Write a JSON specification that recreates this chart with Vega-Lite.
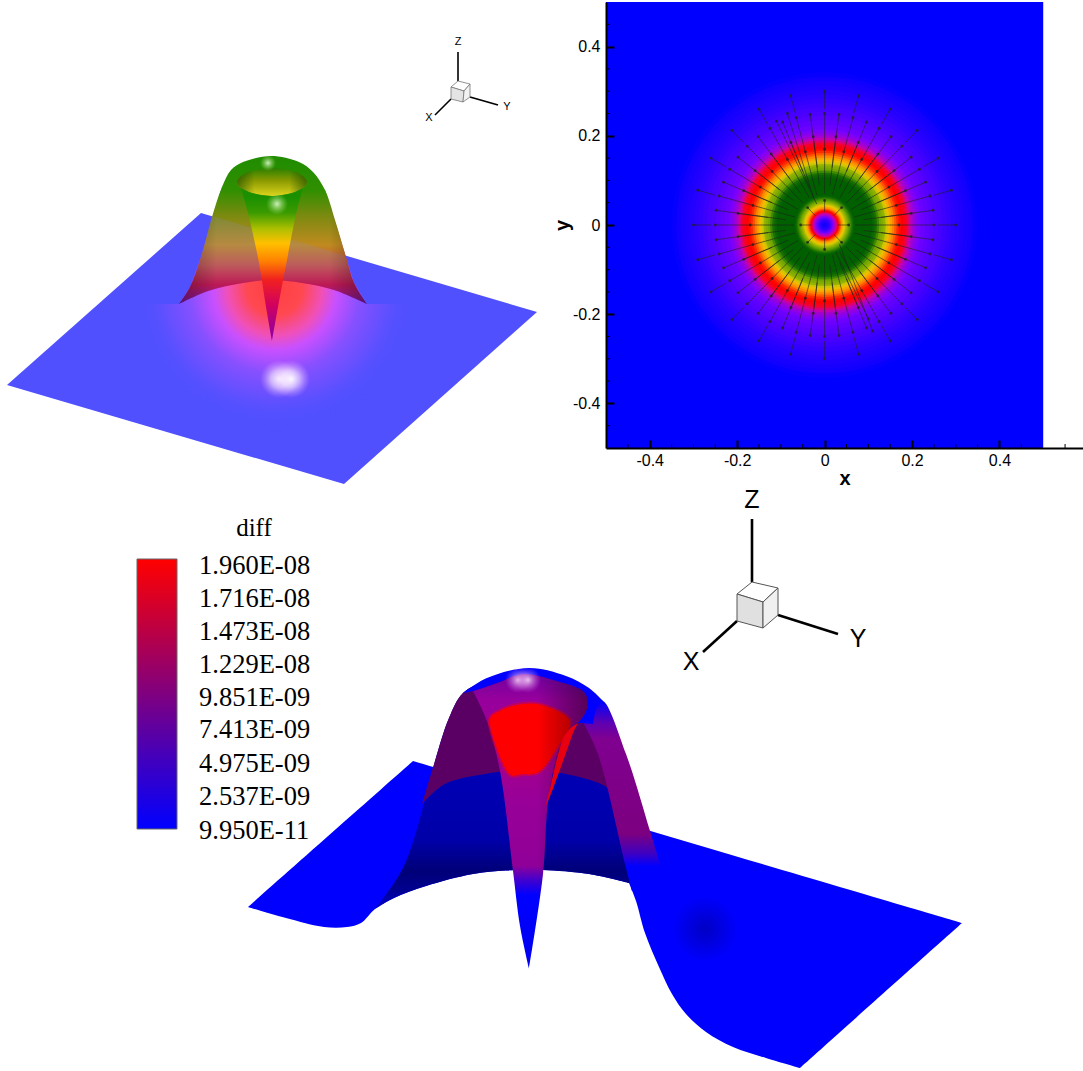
{"$schema":"https://vega.github.io/schema/vega-lite/v6.json","padding":{"left":0,"top":2,"right":0,"bottom":0},"spacing":0,"config":{"view":{"stroke":null}},
"vconcat":[{"hconcat":[
{"width":606,"height":486,
"data":{"values":[
{"p":"plane","i":0,"u":201,"v":213},{"p":"plane","i":1,"u":537,"v":312},{"p":"plane","i":2,"u":344,"v":484},{"p":"plane","i":3,"u":7,"v":385},
{"p":"glow","i":0,"u":135,"v":445},{"p":"glow","i":1,"u":415,"v":445},{"p":"glow","i":2,"u":415,"v":304},{"p":"glow","i":3,"u":367,"v":304},{"p":"glow","i":4,"u":354,"v":283},{"p":"glow","i":5,"u":346,"v":257},{"p":"glow","i":6,"u":325,"v":190},{"p":"glow","i":7,"u":271,"v":157},{"p":"glow","i":8,"u":222,"v":187},{"p":"glow","i":9,"u":201,"v":257},{"p":"glow","i":10,"u":190,"v":287},{"p":"glow","i":11,"u":179,"v":304},{"p":"glow","i":12,"u":135,"v":304},
{"s":"s1","p":"spot","i":0,"u":260,"v":360},{"s":"s1","p":"spot","i":1,"u":298,"v":360},{"s":"s1","p":"spot","i":2,"u":298,"v":398},{"s":"s1","p":"spot","i":3,"u":260,"v":398},
{"s":"s2","p":"spot","i":0,"u":272,"v":360},{"s":"s2","p":"spot","i":1,"u":310,"v":360},{"s":"s2","p":"spot","i":2,"u":310,"v":398},{"s":"s2","p":"spot","i":3,"u":272,"v":398},
{"p":"body","i":0,"u":179,"v":304},{"p":"body","i":0.5,"u":179,"v":304},{"p":"body","i":1,"u":190,"v":287},{"p":"body","i":2,"u":201,"v":257},{"p":"body","i":3,"u":212,"v":217},{"p":"body","i":4,"u":222,"v":187},{"p":"body","i":5,"u":231,"v":170},{"p":"body","i":6,"u":243,"v":162},{"p":"body","i":7,"u":271,"v":156},{"p":"body","i":8,"u":299,"v":162},{"p":"body","i":9,"u":313,"v":172},{"p":"body","i":10,"u":325,"v":190},{"p":"body","i":11,"u":335,"v":220},{"p":"body","i":12,"u":346,"v":257},{"p":"body","i":13,"u":354,"v":283},{"p":"body","i":14,"u":367,"v":304},{"p":"body","i":14.5,"u":367,"v":304},{"p":"body","i":15,"u":334,"v":290},{"p":"body","i":16,"u":302,"v":283},{"p":"body","i":17,"u":272,"v":280},{"p":"body","i":18,"u":243,"v":283},{"p":"body","i":19,"u":208,"v":291},{"p":"body","i":20,"u":179,"v":304},
{"p":"band","i":0,"u":212,"v":216},{"p":"band","i":0.5,"u":212,"v":216},{"p":"band","i":1,"u":344,"v":255},{"p":"band","i":1.5,"u":344,"v":255},{"p":"band","i":2,"u":354,"v":283},{"p":"band","i":3,"u":367,"v":304},{"p":"band","i":3.5,"u":367,"v":304},{"p":"band","i":4,"u":334,"v":290},{"p":"band","i":5,"u":302,"v":283},{"p":"band","i":6,"u":272,"v":280},{"p":"band","i":7,"u":243,"v":283},{"p":"band","i":8,"u":208,"v":291},{"p":"band","i":9,"u":179,"v":304},{"p":"band","i":9.5,"u":179,"v":304},{"p":"band","i":10,"u":190,"v":287},{"p":"band","i":11,"u":201,"v":257},{"p":"band","i":12,"u":212,"v":216},
{"p":"hole","i":0,"u":237,"v":182},{"p":"hole","i":1,"u":241,"v":176},{"p":"hole","i":2,"u":252,"v":171},{"p":"hole","i":3,"u":272,"v":168},{"p":"hole","i":4,"u":292,"v":171},{"p":"hole","i":5,"u":303,"v":176},{"p":"hole","i":6,"u":307,"v":182},{"p":"hole","i":7,"u":303,"v":188},{"p":"hole","i":8,"u":292,"v":193},{"p":"hole","i":9,"u":272,"v":196},{"p":"hole","i":10,"u":252,"v":193},{"p":"hole","i":11,"u":241,"v":188},
{"p":"cone","i":0,"u":241,"v":188},{"p":"cone","i":0.5,"u":241,"v":188},{"p":"cone","i":1,"u":252,"v":193},{"p":"cone","i":2,"u":272,"v":196},{"p":"cone","i":3,"u":292,"v":193},{"p":"cone","i":4,"u":303,"v":188},{"p":"cone","i":4.5,"u":303,"v":188},{"p":"cone","i":5,"u":297,"v":210},{"p":"cone","i":6,"u":287,"v":260},{"p":"cone","i":7,"u":278,"v":307},{"p":"cone","i":8,"u":272,"v":341},{"p":"cone","i":8.5,"u":272,"v":341},{"p":"cone","i":9,"u":266,"v":307},{"p":"cone","i":10,"u":259,"v":263},{"p":"cone","i":11,"u":248,"v":213},{"p":"cone","i":12,"u":241,"v":188},
{"s":"a1","p":"h","i":0,"u":260,"v":155},{"s":"a1","p":"h","i":1,"u":276,"v":155},{"s":"a1","p":"h","i":2,"u":276,"v":171},{"s":"a1","p":"h","i":3,"u":260,"v":171},
{"s":"b1","p":"h","i":0,"u":266,"v":193},{"s":"b1","p":"h","i":1,"u":288,"v":193},{"s":"b1","p":"h","i":2,"u":288,"v":215},{"s":"b1","p":"h","i":3,"u":266,"v":215},
{"p":"c1","i":0,"u":458,"v":81},{"p":"c1","i":1,"u":470,"v":84},{"p":"c1","i":2,"u":464,"v":91},{"p":"c1","i":3,"u":451,"v":87},{"p":"c1","i":4,"u":458,"v":81},
{"p":"c2","i":0,"u":451,"v":87},{"p":"c2","i":1,"u":464,"v":91},{"p":"c2","i":2,"u":463,"v":102},{"p":"c2","i":3,"u":451,"v":99},{"p":"c2","i":4,"u":451,"v":87},
{"p":"c3","i":0,"u":464,"v":91},{"p":"c3","i":1,"u":470,"v":84},{"p":"c3","i":2,"u":470,"v":97},{"p":"c3","i":3,"u":463,"v":102},{"p":"c3","i":4,"u":464,"v":91},
{"p":"axZ","i":0,"u":458,"v":52},{"p":"axZ","i":1,"u":458,"v":81},
{"p":"axY","i":0,"u":470,"v":97},{"p":"axY","i":1,"u":498,"v":105},
{"p":"axX","i":0,"u":451,"v":99},{"p":"axX","i":1,"u":435,"v":115},
{"p":"lab","t":"Z","u":458,"v":42},{"p":"lab","t":"Y","u":507,"v":107},{"p":"lab","t":"X","u":429,"v":118}
]},
"encoding":{"x":{"field":"u","type":"quantitative","scale":{"domain":[0,606],"nice":false,"zero":false},"axis":null},"y":{"field":"v","type":"quantitative","scale":{"domain":[488,2],"nice":false,"zero":false},"axis":null},"order":{"field":"i","type":"quantitative"}},
"layer":[
{"transform":[{"filter":"datum.p=='plane'"}],"mark":{"type":"line","filled":true,"fill":"#5050ff","stroke":null}},
{"transform":[{"filter":"datum.p=='glow'"}],"mark":{"type":"line","filled":true,"stroke":null,"fill":{"gradient":"radial","x1":0.5,"y1":0.455,"r1":0,"x2":0.5,"y2":0.455,"r2":0.5,"stops":[{"offset":0,"color":"#ff4040"},{"offset":0.19,"color":"#ff4850"},{"offset":0.33,"color":"#f050b8"},{"offset":0.43,"color":"#c850ff"},{"offset":0.59,"color":"#8850ff"},{"offset":0.76,"color":"rgba(104,80,255,0.9)"},{"offset":0.88,"color":"rgba(88,80,255,0.35)"},{"offset":1,"color":"rgba(80,80,255,0)"}]}}},
{"transform":[{"filter":"datum.p=='spot'"}],"mark":{"type":"line","filled":true,"stroke":null,"fill":{"gradient":"radial","x1":0.5,"y1":0.5,"r1":0,"x2":0.5,"y2":0.5,"r2":0.5,"stops":[{"offset":0,"color":"rgba(255,255,255,0.95)"},{"offset":0.45,"color":"rgba(255,240,255,0.6)"},{"offset":1,"color":"rgba(230,170,255,0)"}]}},"encoding":{"detail":{"field":"s","type":"nominal"}}},
{"transform":[{"filter":"datum.p=='body'"}],"mark":{"type":"line","interpolate":"catmull-rom","filled":true,"stroke":null,"fill":{"gradient":"linear","x1":0,"y1":0,"x2":0,"y2":1,"stops":[{"offset":0,"color":"#208c00"},{"offset":0.23,"color":"#2f8f00"},{"offset":0.4,"color":"#7a8a10"},{"offset":0.6,"color":"#c08a20"},{"offset":0.74,"color":"#c85040"},{"offset":0.87,"color":"#c80038"},{"offset":1,"color":"#8000a0"}]}}},
{"transform":[{"filter":"datum.p=='band'"}],"mark":{"type":"line","interpolate":"catmull-rom","filled":true,"stroke":null,"fill":"rgba(140,140,220,0.18)"}},
{"transform":[{"filter":"datum.p=='body'"}],"mark":{"type":"line","interpolate":"catmull-rom","filled":true,"stroke":null,"fill":{"gradient":"linear","x1":0,"y1":0,"x2":1,"y2":0,"stops":[{"offset":0,"color":"rgba(0,0,0,0.35)"},{"offset":0.2,"color":"rgba(0,0,0,0)"},{"offset":0.8,"color":"rgba(0,0,0,0)"},{"offset":1,"color":"rgba(0,0,0,0.35)"}]}}},
{"transform":[{"filter":"datum.p=='hole'"}],"mark":{"type":"line","interpolate":"cardinal-closed","filled":true,"stroke":null,"fill":{"gradient":"linear","x1":0,"y1":0,"x2":0,"y2":1,"stops":[{"offset":0,"color":"#2a8000"},{"offset":0.45,"color":"#8a9a00"},{"offset":1,"color":"#dcd41c"}]}}},
{"transform":[{"filter":"datum.p=='hole'"}],"mark":{"type":"line","interpolate":"cardinal-closed","filled":true,"stroke":null,"fill":{"gradient":"linear","x1":0,"y1":0,"x2":1,"y2":0,"stops":[{"offset":0,"color":"rgba(0,60,0,0.55)"},{"offset":0.25,"color":"rgba(0,60,0,0)"},{"offset":0.75,"color":"rgba(0,60,0,0)"},{"offset":1,"color":"rgba(0,60,0,0.55)"}]}}},
{"transform":[{"filter":"datum.p=='cone'"}],"mark":{"type":"line","interpolate":"catmull-rom","filled":true,"stroke":null,"fill":{"gradient":"linear","x1":0,"y1":0,"x2":0,"y2":1,"stops":[{"offset":0.06,"color":"#1a9000"},{"offset":0.16,"color":"#3a9a00"},{"offset":0.27,"color":"#b0c000"},{"offset":0.36,"color":"#ffc000"},{"offset":0.48,"color":"#ff8000"},{"offset":0.6,"color":"#f02020"},{"offset":0.77,"color":"#d00060"},{"offset":0.96,"color":"#9000a0"}]}}},
{"transform":[{"filter":"datum.p=='h'"}],"mark":{"type":"line","filled":true,"stroke":null,"fill":{"gradient":"radial","x1":0.5,"y1":0.5,"r1":0,"x2":0.5,"y2":0.5,"r2":0.5,"stops":[{"offset":0,"color":"rgba(235,255,220,0.85)"},{"offset":1,"color":"rgba(160,220,100,0)"}]}},"encoding":{"detail":{"field":"s","type":"nominal"}}},
{"transform":[{"filter":"datum.p=='axZ'"}],"mark":{"type":"line","color":"#000000","strokeWidth":1.6}},
{"transform":[{"filter":"datum.p=='axY'"}],"mark":{"type":"line","color":"#000000","strokeWidth":1.6}},
{"transform":[{"filter":"datum.p=='axX'"}],"mark":{"type":"line","color":"#000000","strokeWidth":1.6}},
{"transform":[{"filter":"datum.p=='c1'"}],"mark":{"type":"line","filled":true,"fill":"#ffffff","stroke":"#777777","strokeWidth":0.8}},
{"transform":[{"filter":"datum.p=='c2'"}],"mark":{"type":"line","filled":true,"fill":"#e4e4e4","stroke":"#777777","strokeWidth":0.8}},
{"transform":[{"filter":"datum.p=='c3'"}],"mark":{"type":"line","filled":true,"fill":"#f2f2f2","stroke":"#777777","strokeWidth":0.8}},
{"transform":[{"filter":"datum.p=='lab'"}],"mark":{"type":"text","font":"Liberation Sans","fontSize":11,"color":"#000000"},"encoding":{"text":{"field":"t","type":"nominal"},"order":null}}
]},
{"width":477,"height":446,
"layer":[
{"data":{"values":[{"xa":-0.5,"xb":0.5,"ya":-0.5,"yb":0.5}]},"mark":{"type":"rect","color":"#0000ff"},
"encoding":{"x":{"field":"xa","type":"quantitative","title":"x","scale":{"domain":[-0.5,0.591],"nice":false,"zero":false},"axis":{"values":[-0.4,-0.2,0,0.2,0.4],"labelExpr":"''+datum.value","grid":false,"domainColor":"#000000","domainWidth":2,"tickColor":"#000000","tickWidth":2,"tickSize":-8,"labelPadding":12,"labelFont":"Liberation Sans","labelFontSize":16,"labelColor":"#000000","titleFont":"Liberation Sans","titleFontSize":20,"titleFontWeight":"bold","titleColor":"#000000","titlePadding":0,"zindex":1}},"x2":{"field":"xb"},
"y":{"field":"ya","type":"quantitative","title":"y","scale":{"domain":[-0.5,0.5],"nice":false,"zero":false},"axis":{"values":[-0.4,-0.2,0,0.2,0.4],"labelExpr":"''+datum.value","grid":false,"domainColor":"#000000","domainWidth":2,"tickColor":"#000000","tickWidth":2,"tickSize":-8,"labelPadding":14,"labelFont":"Liberation Sans","labelFontSize":16,"labelColor":"#000000","titleFont":"Liberation Sans","titleFontSize":20,"titleFontWeight":"bold","titleColor":"#000000","titlePadding":0,"zindex":1}},"y2":{"field":"yb"}}},
{"data":{"values":[{"r":0.35,"w":0.01},{"r":0.34,"w":0.03},{"r":0.33,"w":0.04},{"r":0.32,"w":0.05},{"r":0.31,"w":0.06},{"r":0.3,"w":0.07},{"r":0.29,"w":0.085},{"r":0.28,"w":0.1},{"r":0.27,"w":0.115},{"r":0.26,"w":0.13},{"r":0.25,"w":0.145},{"r":0.24,"w":0.16},{"r":0.23,"w":0.18},{"r":0.22,"w":0.2},{"r":0.215,"w":0.22},{"r":0.21,"w":0.24},{"r":0.205,"w":0.27},{"r":0.2,"w":0.31},{"r":0.195,"w":0.35},{"r":0.19,"w":0.38},{"r":0.185,"w":0.39},{"r":0.18,"w":0.4},{"r":0.175,"w":0.41},{"r":0.17,"w":0.43},{"r":0.165,"w":0.46},{"r":0.16,"w":0.49},{"r":0.155,"w":0.53},{"r":0.15,"w":0.57},{"r":0.145,"w":0.64},{"r":0.14,"w":0.72},{"r":0.135,"w":0.75},{"r":0.13,"w":0.78},{"r":0.125,"w":0.87},{"r":0.12,"w":0.95},{"r":0.115,"w":0.98},{"r":0.11,"w":1},{"r":0.07,"w":1},{"r":0.0675,"w":0.98},{"r":0.065,"w":0.95},{"r":0.0625,"w":0.9},{"r":0.06,"w":0.85},{"r":0.0575,"w":0.8},{"r":0.055,"w":0.76},{"r":0.0525,"w":0.72},{"r":0.05,"w":0.68},{"r":0.0475,"w":0.63},{"r":0.045,"w":0.58},{"r":0.0425,"w":0.54},{"r":0.04,"w":0.5},{"r":0.0375,"w":0.46},{"r":0.035,"w":0.43},{"r":0.0325,"w":0.4},{"r":0.03,"w":0.37},{"r":0.0275,"w":0.33},{"r":0.025,"w":0.29},{"r":0.0225,"w":0.25},{"r":0.02,"w":0.2},{"r":0.0175,"w":0.16},{"r":0.015,"w":0.12},{"r":0.0125,"w":0.09},{"r":0.01,"w":0.06},{"r":0.005,"w":0.03}]},
"mark":{"type":"circle","opacity":1},"encoding":{"x":{"datum":0,"type":"quantitative","scale":{"domain":[-0.5,0.591],"nice":false,"zero":false}},"y":{"datum":0,"type":"quantitative","scale":{"domain":[-0.5,0.5],"nice":false,"zero":false}},"size":{"field":"r","type":"quantitative","scale":{"type":"pow","exponent":2,"domain":[0,0.5],"range":[0,190096]},"legend":null},"color":{"field":"w","type":"quantitative","scale":{"interpolate":"rgb","domain":[0,0.2,0.33,0.4,0.5,0.6,0.8,1],"range":["#0000ff","#7800ff","#d000a0","#ff0000","#ff9000","#e8d000","#60a000","#006000"]},"legend":null}}},
{"data":{"values":[
{"a":0.07,"b":0,"c":0.17,"d":0},{"a":0.068,"b":0.018,"c":0.164,"d":0.044},{"a":0.061,"b":0.035,"c":0.147,"d":0.085},{"a":0.049,"b":0.049,"c":0.12,"d":0.12},{"a":0.035,"b":0.061,"c":0.085,"d":0.147},{"a":0.018,"b":0.068,"c":0.044,"d":0.164},{"a":0,"b":0.07,"c":0,"d":0.17},{"a":-0.018,"b":0.068,"c":-0.044,"d":0.164},{"a":-0.035,"b":0.061,"c":-0.085,"d":0.147},{"a":-0.049,"b":0.049,"c":-0.12,"d":0.12},{"a":-0.061,"b":0.035,"c":-0.147,"d":0.085},{"a":-0.068,"b":0.018,"c":-0.164,"d":0.044},{"a":-0.07,"b":0,"c":-0.17,"d":0},{"a":-0.068,"b":-0.018,"c":-0.164,"d":-0.044},{"a":-0.061,"b":-0.035,"c":-0.147,"d":-0.085},{"a":-0.049,"b":-0.049,"c":-0.12,"d":-0.12},{"a":-0.035,"b":-0.061,"c":-0.085,"d":-0.147},{"a":-0.018,"b":-0.068,"c":-0.044,"d":-0.164},{"a":0,"b":-0.07,"c":0,"d":-0.17},{"a":0.018,"b":-0.068,"c":0.044,"d":-0.164},{"a":0.035,"b":-0.061,"c":0.085,"d":-0.147},{"a":0.049,"b":-0.049,"c":0.12,"d":-0.12},{"a":0.061,"b":-0.035,"c":0.147,"d":-0.085},{"a":0.068,"b":-0.018,"c":0.164,"d":-0.044},
{"a":0.129,"b":0.017,"c":0.248,"d":0.033},{"a":0.12,"b":0.05,"c":0.231,"d":0.096},{"a":0.103,"b":0.079,"c":0.198,"d":0.152},{"a":0.079,"b":0.103,"c":0.152,"d":0.198},{"a":0.05,"b":0.12,"c":0.096,"d":0.231},{"a":0.017,"b":0.129,"c":0.033,"d":0.248},{"a":-0.017,"b":0.129,"c":-0.033,"d":0.248},{"a":-0.05,"b":0.12,"c":-0.096,"d":0.231},{"a":-0.079,"b":0.103,"c":-0.152,"d":0.198},{"a":-0.103,"b":0.079,"c":-0.198,"d":0.152},{"a":-0.12,"b":0.05,"c":-0.231,"d":0.096},{"a":-0.129,"b":0.017,"c":-0.248,"d":0.033},{"a":-0.129,"b":-0.017,"c":-0.248,"d":-0.033},{"a":-0.12,"b":-0.05,"c":-0.231,"d":-0.096},{"a":-0.103,"b":-0.079,"c":-0.198,"d":-0.152},{"a":-0.079,"b":-0.103,"c":-0.152,"d":-0.198},{"a":-0.05,"b":-0.12,"c":-0.096,"d":-0.231},{"a":-0.017,"b":-0.129,"c":-0.033,"d":-0.248},{"a":0.017,"b":-0.129,"c":0.033,"d":-0.248},{"a":0.05,"b":-0.12,"c":0.096,"d":-0.231},{"a":0.079,"b":-0.103,"c":0.152,"d":-0.198},{"a":0.103,"b":-0.079,"c":0.198,"d":-0.152},{"a":0.12,"b":-0.05,"c":0.231,"d":-0.096},{"a":0.129,"b":-0.017,"c":0.248,"d":-0.033},
{"a":0.089,"b":0.012,"c":0.198,"d":0.026},{"a":0.083,"b":0.034,"c":0.185,"d":0.077},{"a":0.071,"b":0.055,"c":0.159,"d":0.122},{"a":0.055,"b":0.071,"c":0.122,"d":0.159},{"a":0.034,"b":0.083,"c":0.077,"d":0.185},{"a":0.012,"b":0.089,"c":0.026,"d":0.198},{"a":-0.012,"b":0.089,"c":-0.026,"d":0.198},{"a":-0.034,"b":0.083,"c":-0.077,"d":0.185},{"a":-0.055,"b":0.071,"c":-0.122,"d":0.159},{"a":-0.071,"b":0.055,"c":-0.159,"d":0.122},{"a":-0.083,"b":0.034,"c":-0.185,"d":0.077},{"a":-0.089,"b":0.012,"c":-0.198,"d":0.026},{"a":-0.089,"b":-0.012,"c":-0.198,"d":-0.026},{"a":-0.083,"b":-0.034,"c":-0.185,"d":-0.077},{"a":-0.071,"b":-0.055,"c":-0.159,"d":-0.122},{"a":-0.055,"b":-0.071,"c":-0.122,"d":-0.159},{"a":-0.034,"b":-0.083,"c":-0.077,"d":-0.185},{"a":-0.012,"b":-0.089,"c":-0.026,"d":-0.198},{"a":0.012,"b":-0.089,"c":0.026,"d":-0.198},{"a":0.034,"b":-0.083,"c":0.077,"d":-0.185},{"a":0.055,"b":-0.071,"c":0.122,"d":-0.159},{"a":0.071,"b":-0.055,"c":0.159,"d":-0.122},{"a":0.083,"b":-0.034,"c":0.185,"d":-0.077},{"a":0.089,"b":-0.012,"c":0.198,"d":-0.026},
{"a":0.17,"b":0,"c":0.25,"d":0},{"a":0.164,"b":0.044,"c":0.241,"d":0.065},{"a":0.147,"b":0.085,"c":0.217,"d":0.125},{"a":0.12,"b":0.12,"c":0.177,"d":0.177},{"a":0.085,"b":0.147,"c":0.125,"d":0.217},{"a":0.044,"b":0.164,"c":0.065,"d":0.241},{"a":0,"b":0.17,"c":0,"d":0.25},{"a":-0.044,"b":0.164,"c":-0.065,"d":0.241},{"a":-0.085,"b":0.147,"c":-0.125,"d":0.217},{"a":-0.12,"b":0.12,"c":-0.177,"d":0.177},{"a":-0.147,"b":0.085,"c":-0.217,"d":0.125},{"a":-0.164,"b":0.044,"c":-0.241,"d":0.065},{"a":-0.17,"b":0,"c":-0.25,"d":0},{"a":-0.164,"b":-0.044,"c":-0.241,"d":-0.065},{"a":-0.147,"b":-0.085,"c":-0.217,"d":-0.125},{"a":-0.12,"b":-0.12,"c":-0.177,"d":-0.177},{"a":-0.085,"b":-0.147,"c":-0.125,"d":-0.217},{"a":-0.044,"b":-0.164,"c":-0.065,"d":-0.241},{"a":0,"b":-0.17,"c":0,"d":-0.25},{"a":0.044,"b":-0.164,"c":0.065,"d":-0.241},{"a":0.085,"b":-0.147,"c":0.125,"d":-0.217},{"a":0.12,"b":-0.12,"c":0.177,"d":-0.177},{"a":0.147,"b":-0.085,"c":0.217,"d":-0.125},{"a":0.164,"b":-0.044,"c":0.241,"d":-0.065},
{"a":0.26,"b":0,"c":0.3,"d":0},{"a":0.251,"b":0.067,"c":0.29,"d":0.078},{"a":0.225,"b":0.13,"c":0.26,"d":0.15},{"a":0.184,"b":0.184,"c":0.212,"d":0.212},{"a":0.13,"b":0.225,"c":0.15,"d":0.26},{"a":0.067,"b":0.251,"c":0.078,"d":0.29},{"a":0,"b":0.26,"c":0,"d":0.3},{"a":-0.067,"b":0.251,"c":-0.078,"d":0.29},{"a":-0.13,"b":0.225,"c":-0.15,"d":0.26},{"a":-0.184,"b":0.184,"c":-0.212,"d":0.212},{"a":-0.225,"b":0.13,"c":-0.26,"d":0.15},{"a":-0.251,"b":0.067,"c":-0.29,"d":0.078},{"a":-0.26,"b":0,"c":-0.3,"d":0},{"a":-0.251,"b":-0.067,"c":-0.29,"d":-0.078},{"a":-0.225,"b":-0.13,"c":-0.26,"d":-0.15},{"a":-0.184,"b":-0.184,"c":-0.212,"d":-0.212},{"a":-0.13,"b":-0.225,"c":-0.15,"d":-0.26},{"a":-0.067,"b":-0.251,"c":-0.078,"d":-0.29},{"a":0,"b":-0.26,"c":0,"d":-0.3},{"a":0.067,"b":-0.251,"c":0.078,"d":-0.29},{"a":0.13,"b":-0.225,"c":0.15,"d":-0.26},{"a":0.184,"b":-0.184,"c":0.212,"d":-0.212},{"a":0.225,"b":-0.13,"c":0.26,"d":-0.15},{"a":0.251,"b":-0.067,"c":0.29,"d":-0.078},
{"a":0.03,"b":0,"c":0.055,"d":0},{"a":0.021,"b":0.021,"c":0.039,"d":0.039},{"a":0,"b":0.03,"c":0,"d":0.055},{"a":-0.021,"b":0.021,"c":-0.039,"d":0.039},{"a":-0.03,"b":0,"c":-0.055,"d":0},{"a":-0.021,"b":-0.021,"c":-0.039,"d":-0.039},{"a":0,"b":-0.03,"c":0,"d":-0.055},{"a":0.021,"b":-0.021,"c":0.039,"d":-0.039},
{"a":-0.018,"b":0.047,"c":-0.11,"d":0.233},{"a":-0.025,"b":0.06,"c":-0.085,"d":0.25},{"a":0.034,"b":-0.043,"c":0.11,"d":-0.238},{"a":0.025,"b":-0.06,"c":0.1,"d":-0.21}
]},"layer":[
{"mark":{"type":"rule","color":"#202020","strokeWidth":0.8,"opacity":0.75},"encoding":{"x":{"field":"a","type":"quantitative","scale":{"domain":[-0.5,0.591],"nice":false,"zero":false}},"y":{"field":"b","type":"quantitative","scale":{"domain":[-0.5,0.5],"nice":false,"zero":false}},"x2":{"field":"c"},"y2":{"field":"d"}}},
{"mark":{"type":"circle","color":"#202020","size":8,"opacity":0.8},"encoding":{"x":{"field":"c","type":"quantitative","scale":{"domain":[-0.5,0.591],"nice":false,"zero":false}},"y":{"field":"d","type":"quantitative","scale":{"domain":[-0.5,0.5],"nice":false,"zero":false}}}}
]},
{"data":{"values":[{"t":-0.45},{"t":-0.35},{"t":-0.3},{"t":-0.25},{"t":-0.15},{"t":-0.1},{"t":-0.05},{"t":0.05},{"t":0.1},{"t":0.15},{"t":0.25},{"t":0.3},{"t":0.35},{"t":0.45},{"t":0.55}]},"mark":{"type":"rule","color":"#000000","strokeWidth":1},"encoding":{"x":{"field":"t","type":"quantitative","scale":{"domain":[-0.5,0.591],"nice":false,"zero":false}},"y":{"datum":-0.5,"type":"quantitative","scale":{"domain":[-0.5,0.5],"nice":false,"zero":false}},"y2":{"datum":-0.491}}},
{"data":{"values":[{"t":-0.45},{"t":-0.35},{"t":-0.3},{"t":-0.25},{"t":-0.15},{"t":-0.1},{"t":-0.05},{"t":0.05},{"t":0.1},{"t":0.15},{"t":0.25},{"t":0.3},{"t":0.35},{"t":0.45}]},"mark":{"type":"rule","color":"#000000","strokeWidth":1},"encoding":{"y":{"field":"t","type":"quantitative","scale":{"domain":[-0.5,0.5],"nice":false,"zero":false}},"x":{"datum":-0.5,"type":"quantitative","scale":{"domain":[-0.5,0.591],"nice":false,"zero":false}},"x2":{"datum":-0.491}}}
]}
],"spacing":0,"bounds":"flush"},
{"width":1083,"height":583,
"data":{"values":[
{"p":"plane","i":0,"u":248,"v":906},{"p":"plane","i":0.5,"u":248,"v":906},{"p":"plane","i":1,"u":413,"v":760},{"p":"plane","i":1.5,"u":413,"v":760},{"p":"plane","i":3,"u":962,"v":922},{"p":"plane","i":3.5,"u":962,"v":922},{"p":"plane","i":4,"u":800,"v":1067},{"p":"plane","i":4.5,"u":800,"v":1067},{"p":"plane","i":4.8,"u":766,"v":1057},{"p":"plane","i":5,"u":733,"v":1046},{"p":"plane","i":6,"u":706,"v":1031},{"p":"plane","i":7,"u":686,"v":1013},{"p":"plane","i":7.5,"u":672,"v":993},{"p":"plane","i":8,"u":659,"v":966},{"p":"plane","i":9,"u":645,"v":932},{"p":"plane","i":10,"u":636,"v":900},{"p":"plane","i":11,"u":629,"v":882},{"p":"plane","i":11.5,"u":629,"v":882},{"p":"plane","i":12,"u":589,"v":873},{"p":"plane","i":13,"u":543,"v":869},{"p":"plane","i":14,"u":515,"v":869},{"p":"plane","i":15,"u":473,"v":873},{"p":"plane","i":16,"u":426,"v":885},{"p":"plane","i":17,"u":394,"v":897},{"p":"plane","i":18,"u":375,"v":908},{"p":"plane","i":19,"u":361,"v":922},{"p":"plane","i":20,"u":347,"v":926},{"p":"plane","i":21,"u":324,"v":926},{"p":"plane","i":22,"u":286,"v":917},{"p":"plane","i":23,"u":248,"v":906},
{"p":"wall","i":0,"u":375,"v":908},{"p":"wall","i":0.5,"u":375,"v":908},{"p":"wall","i":1,"u":403,"v":867},{"p":"wall","i":2,"u":424,"v":803},{"p":"wall","i":3,"u":435,"v":760},{"p":"wall","i":4,"u":449,"v":717},{"p":"wall","i":5,"u":463,"v":692},{"p":"wall","i":6,"u":487,"v":680},{"p":"wall","i":7,"u":529,"v":672},{"p":"wall","i":8,"u":570,"v":680},{"p":"wall","i":9,"u":600,"v":700},{"p":"wall","i":10,"u":610,"v":753},{"p":"wall","i":11,"u":632,"v":867},{"p":"wall","i":12,"u":629,"v":882},{"p":"wall","i":12.5,"u":629,"v":882},{"p":"wall","i":13,"u":589,"v":873},{"p":"wall","i":14,"u":543,"v":869},{"p":"wall","i":15,"u":515,"v":869},{"p":"wall","i":16,"u":473,"v":873},{"p":"wall","i":17,"u":426,"v":885},{"p":"wall","i":18,"u":394,"v":897},{"p":"wall","i":19,"u":375,"v":908},
{"p":"wtop","i":0,"u":422,"v":803},{"p":"wtop","i":0.5,"u":422,"v":803},{"p":"wtop","i":1,"u":435,"v":760},{"p":"wtop","i":2,"u":449,"v":717},{"p":"wtop","i":3,"u":463,"v":692},{"p":"wtop","i":4,"u":487,"v":680},{"p":"wtop","i":5,"u":529,"v":672},{"p":"wtop","i":6,"u":570,"v":680},{"p":"wtop","i":7,"u":600,"v":700},{"p":"wtop","i":8,"u":610,"v":753},{"p":"wtop","i":9,"u":612,"v":790},{"p":"wtop","i":9.5,"u":612,"v":790},{"p":"wtop","i":10,"u":601,"v":783},{"p":"wtop","i":11,"u":566,"v":773},{"p":"wtop","i":12,"u":530,"v":768},{"p":"wtop","i":13,"u":491,"v":772},{"p":"wtop","i":14,"u":445,"v":783},{"p":"wtop","i":15,"u":422,"v":803},
{"p":"rband","i":0,"u":584,"v":723},{"p":"rband","i":0.5,"u":584,"v":723},{"p":"rband","i":1,"u":597,"v":703},{"p":"rband","i":2,"u":603,"v":700},{"p":"rband","i":3,"u":626,"v":753},{"p":"rband","i":4,"u":650,"v":830},{"p":"rband","i":5,"u":662,"v":870},{"p":"rband","i":6,"u":668,"v":890},{"p":"rband","i":6.5,"u":668,"v":890},{"p":"rband","i":7,"u":632,"v":890},{"p":"rband","i":7.5,"u":632,"v":890},{"p":"rband","i":8,"u":626,"v":867},{"p":"rband","i":9,"u":598,"v":753},{"p":"rband","i":10,"u":584,"v":723},
{"p":"dark","i":0,"u":672,"v":895},{"p":"dark","i":1,"u":738,"v":895},{"p":"dark","i":2,"u":738,"v":961},{"p":"dark","i":3,"u":672,"v":961},
{"p":"funnel","i":0,"u":473,"v":690},{"p":"funnel","i":0.5,"u":473,"v":690},{"p":"funnel","i":1,"u":497,"v":682},{"p":"funnel","i":2,"u":523,"v":673},{"p":"funnel","i":3,"u":557,"v":680},{"p":"funnel","i":4,"u":583,"v":690},{"p":"funnel","i":5,"u":590,"v":700},{"p":"funnel","i":6,"u":577,"v":723},{"p":"funnel","i":7,"u":563,"v":737},{"p":"funnel","i":8,"u":550,"v":787},{"p":"funnel","i":9,"u":547,"v":810},{"p":"funnel","i":10,"u":543,"v":873},{"p":"funnel","i":11,"u":529,"v":968},{"p":"funnel","i":11.5,"u":529,"v":968},{"p":"funnel","i":12,"u":520,"v":925},{"p":"funnel","i":13,"u":513,"v":870},{"p":"funnel","i":14,"u":500,"v":770},{"p":"funnel","i":15,"u":487,"v":720},{"p":"funnel","i":16,"u":473,"v":690},
{"p":"red","i":0,"u":523,"v":703},{"p":"red","i":1,"u":545,"v":705},{"p":"red","i":2,"u":570,"v":720},{"p":"red","i":3,"u":557,"v":747},{"p":"red","i":4,"u":540,"v":770},{"p":"red","i":5,"u":523,"v":773},{"p":"red","i":6,"u":507,"v":770},{"p":"red","i":7,"u":490,"v":723},{"p":"red","i":8,"u":500,"v":710},
{"p":"sliver","i":0,"u":577,"v":723},{"p":"sliver","i":1,"u":563,"v":738},{"p":"sliver","i":2,"u":550,"v":787},{"p":"sliver","i":3,"u":547,"v":803},{"p":"sliver","i":4,"u":562,"v":763},{"p":"sliver","i":5,"u":573,"v":732},
{"p":"rim","i":0,"u":463,"v":692},{"p":"rim","i":0.5,"u":463,"v":692},{"p":"rim","i":1,"u":487,"v":677},{"p":"rim","i":2,"u":529,"v":667},{"p":"rim","i":3,"u":566,"v":675},{"p":"rim","i":4,"u":589,"v":687},{"p":"rim","i":5,"u":603,"v":700},{"p":"rim","i":5.5,"u":603,"v":700},{"p":"rim","i":6,"u":597,"v":706},{"p":"rim","i":7,"u":593,"v":723},{"p":"rim","i":7.5,"u":593,"v":723},{"p":"rim","i":8,"u":578,"v":722},{"p":"rim","i":8.5,"u":578,"v":722},{"p":"rim","i":9,"u":587,"v":708},{"p":"rim","i":10,"u":585,"v":692},{"p":"rim","i":11,"u":557,"v":680},{"p":"rim","i":12,"u":523,"v":673},{"p":"rim","i":13,"u":497,"v":682},{"p":"rim","i":14,"u":473,"v":690},{"p":"rim","i":15,"u":463,"v":692},
{"s":"e1","p":"hl","i":0,"u":505,"v":666},{"s":"e1","p":"hl","i":1,"u":531,"v":666},{"s":"e1","p":"hl","i":2,"u":531,"v":692},{"s":"e1","p":"hl","i":3,"u":505,"v":692},
{"s":"e2","p":"hl","i":0,"u":515,"v":666},{"s":"e2","p":"hl","i":1,"u":541,"v":666},{"s":"e2","p":"hl","i":2,"u":541,"v":692},{"s":"e2","p":"hl","i":3,"u":515,"v":692},
{"p":"bar","i":0,"u":137,"v":558},{"p":"bar","i":1,"u":177,"v":558},{"p":"bar","i":2,"u":177,"v":828},{"p":"bar","i":3,"u":137,"v":828},{"p":"bar","i":4,"u":137,"v":558},
{"p":"c1","i":0,"u":752,"v":581},{"p":"c1","i":1,"u":778,"v":587},{"p":"c1","i":2,"u":763,"v":601},{"p":"c1","i":3,"u":737,"v":593},{"p":"c1","i":4,"u":752,"v":581},
{"p":"c2","i":0,"u":737,"v":593},{"p":"c2","i":1,"u":763,"v":601},{"p":"c2","i":2,"u":763,"v":627},{"p":"c2","i":3,"u":737,"v":620},{"p":"c2","i":4,"u":737,"v":593},
{"p":"c3","i":0,"u":763,"v":601},{"p":"c3","i":1,"u":778,"v":587},{"p":"c3","i":2,"u":778,"v":614},{"p":"c3","i":3,"u":763,"v":627},{"p":"c3","i":4,"u":763,"v":601},
{"p":"axZ","i":0,"u":752,"v":518},{"p":"axZ","i":1,"u":752,"v":581},
{"p":"axY","i":0,"u":778,"v":614},{"p":"axY","i":1,"u":838,"v":633},
{"p":"axX","i":0,"u":737,"v":620},{"p":"axX","i":1,"u":703,"v":651},
{"p":"lab","t":"Z","u":752,"v":499},{"p":"lab","t":"Y","u":858,"v":638},{"p":"lab","t":"X","u":691,"v":661},
{"p":"leg","t":"diff","u":254,"v":527},
{"p":"tick","t":"1.960E-08","u":199,"v":565},{"p":"tick","t":"1.716E-08","u":199,"v":598},{"p":"tick","t":"1.473E-08","u":199,"v":631},{"p":"tick","t":"1.229E-08","u":199,"v":664},{"p":"tick","t":"9.851E-09","u":199,"v":697},{"p":"tick","t":"7.413E-09","u":199,"v":729},{"p":"tick","t":"4.975E-09","u":199,"v":763},{"p":"tick","t":"2.537E-09","u":199,"v":796},{"p":"tick","t":"9.950E-11","u":199,"v":830}
]},
"encoding":{"x":{"field":"u","type":"quantitative","scale":{"domain":[0,1083],"nice":false,"zero":false},"axis":null},"y":{"field":"v","type":"quantitative","scale":{"domain":[1071,488],"nice":false,"zero":false},"axis":null},"order":{"field":"i","type":"quantitative"}},
"layer":[
{"transform":[{"filter":"datum.p=='plane'"}],"mark":{"type":"line","interpolate":"catmull-rom","filled":true,"fill":"#0000ff","stroke":null}},
{"transform":[{"filter":"datum.p=='wall'"}],"mark":{"type":"line","interpolate":"catmull-rom","filled":true,"stroke":null,"fill":{"gradient":"linear","x1":0,"y1":0,"x2":0,"y2":1,"stops":[{"offset":0,"color":"#0000c8"},{"offset":0.71,"color":"#0000a8"},{"offset":0.84,"color":"#000078"},{"offset":0.92,"color":"#000090"},{"offset":1,"color":"#0000d0"}]}}},
{"transform":[{"filter":"datum.p=='wtop'"}],"mark":{"type":"line","interpolate":"catmull-rom","filled":true,"fill":"#5a0064","stroke":null}},
{"transform":[{"filter":"datum.p=='rband'"}],"mark":{"type":"line","interpolate":"catmull-rom","filled":true,"stroke":null,"fill":{"gradient":"linear","x1":0,"y1":0,"x2":0,"y2":1,"stops":[{"offset":0,"color":"#0000ff"},{"offset":0.12,"color":"#6000b0"},{"offset":0.2,"color":"#800090"},{"offset":0.7,"color":"#7c0080"},{"offset":0.8,"color":"#4000c0"},{"offset":0.87,"color":"#0000ff"},{"offset":1,"color":"#0000ff"}]}}},
{"transform":[{"filter":"datum.p=='dark'"}],"mark":{"type":"line","filled":true,"stroke":null,"fill":{"gradient":"radial","x1":0.5,"y1":0.5,"r1":0,"x2":0.5,"y2":0.5,"r2":0.5,"stops":[{"offset":0,"color":"rgba(0,0,110,0.4)"},{"offset":1,"color":"rgba(0,0,110,0)"}]}}},
{"transform":[{"filter":"datum.p=='funnel'"}],"mark":{"type":"line","interpolate":"catmull-rom","filled":true,"stroke":null,"fill":{"gradient":"linear","x1":0,"y1":0,"x2":0,"y2":1,"stops":[{"offset":0,"color":"#7000a0"},{"offset":0.09,"color":"#98009c"},{"offset":0.33,"color":"#a00090"},{"offset":0.43,"color":"#980098"},{"offset":0.65,"color":"#900098"},{"offset":0.7,"color":"#4000d0"},{"offset":0.75,"color":"#0000ff"},{"offset":1,"color":"#0000f0"}]}}},
{"transform":[{"filter":"datum.p=='red'"}],"mark":{"type":"line","interpolate":"cardinal-closed","filled":true,"fill":"#ff0000","stroke":"rgba(255,0,0,0.4)","strokeWidth":4}},
{"transform":[{"filter":"datum.p=='funnel'"}],"mark":{"type":"line","interpolate":"catmull-rom","filled":true,"stroke":null,"fill":{"gradient":"linear","x1":0,"y1":0,"x2":1,"y2":0,"stops":[{"offset":0,"color":"rgba(0,0,0,0)"},{"offset":0.55,"color":"rgba(0,0,0,0)"},{"offset":1,"color":"rgba(0,0,0,0.45)"}]}}},
{"transform":[{"filter":"datum.p=='sliver'"}],"mark":{"type":"line","interpolate":"cardinal-closed","filled":true,"fill":"#e80010","stroke":null}},
{"transform":[{"filter":"datum.p=='rim'"}],"mark":{"type":"line","interpolate":"catmull-rom","filled":true,"fill":"#0000ff","stroke":null}},
{"transform":[{"filter":"datum.p=='hl'"}],"mark":{"type":"line","filled":true,"stroke":null,"fill":{"gradient":"radial","x1":0.5,"y1":0.5,"r1":0,"x2":0.5,"y2":0.5,"r2":0.5,"stops":[{"offset":0,"color":"rgba(255,235,255,0.8)"},{"offset":1,"color":"rgba(220,120,230,0)"}]}},"encoding":{"detail":{"field":"s","type":"nominal"}}},
{"transform":[{"filter":"datum.p=='bar'"}],"mark":{"type":"line","filled":true,"stroke":"#666666","strokeWidth":1,"fill":{"gradient":"linear","x1":0,"y1":0,"x2":0,"y2":1,"stops":[{"offset":0,"color":"#ff0000"},{"offset":1,"color":"#0000ff"}]}}},
{"transform":[{"filter":"datum.p=='axZ'"}],"mark":{"type":"line","color":"#000000","strokeWidth":2.6}},
{"transform":[{"filter":"datum.p=='axY'"}],"mark":{"type":"line","color":"#000000","strokeWidth":2.6}},
{"transform":[{"filter":"datum.p=='axX'"}],"mark":{"type":"line","color":"#000000","strokeWidth":2.6}},
{"transform":[{"filter":"datum.p=='c1'"}],"mark":{"type":"line","filled":true,"fill":"#ffffff","stroke":"#555555","strokeWidth":1}},
{"transform":[{"filter":"datum.p=='c2'"}],"mark":{"type":"line","filled":true,"fill":"#e0e0e0","stroke":"#555555","strokeWidth":1}},
{"transform":[{"filter":"datum.p=='c3'"}],"mark":{"type":"line","filled":true,"fill":"#f0f0f0","stroke":"#555555","strokeWidth":1}},
{"transform":[{"filter":"datum.p=='lab'"}],"mark":{"type":"text","font":"Liberation Sans","fontSize":25,"color":"#000000"},"encoding":{"text":{"field":"t","type":"nominal"},"order":null}},
{"transform":[{"filter":"datum.p=='leg'"}],"mark":{"type":"text","font":"Liberation Serif","fontSize":25,"color":"#000000"},"encoding":{"text":{"field":"t","type":"nominal"},"order":null}},
{"transform":[{"filter":"datum.p=='tick'"}],"mark":{"type":"text","font":"Liberation Serif","fontSize":26.5,"align":"left","color":"#000000"},"encoding":{"text":{"field":"t","type":"nominal"},"order":null}}
]}
]}
